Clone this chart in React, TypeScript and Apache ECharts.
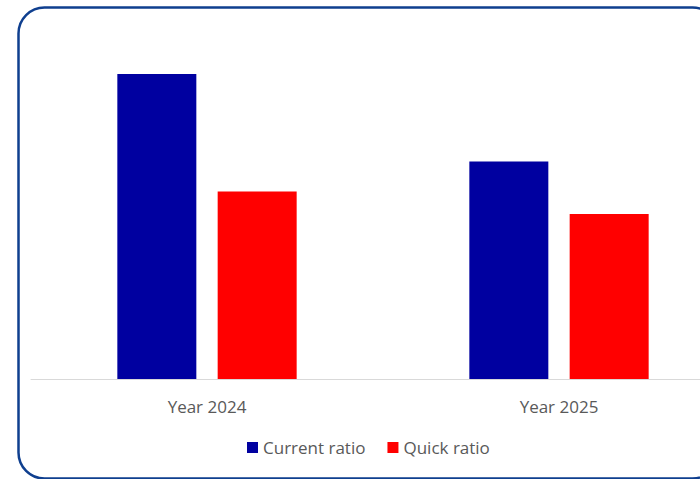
import React, { useEffect, useRef } from "react";
import * as echarts from "echarts";

const categories = ["Year 2024", "Year 2025"];
const currentRatio = [2.44, 1.74];
const quickRatio = [1.5, 1.32];
const seriesNames = ["Current ratio", "Quick ratio"];

export default function App() {
  const ref = useRef<HTMLDivElement>(null);
  useEffect(() => {
    if (!ref.current) return;
    const chart = echarts.init(ref.current, null, { renderer: "svg" });
    chart.setOption({
      animation: false,
      backgroundColor: "#ffffff",
      textStyle: { fontFamily: "Open Sans" },
      graphic: [
        {
          type: "rect",
          shape: { x: 18.5, y: 7.5, width: 700, height: 471, r: 26 },
          style: { fill: "none", stroke: "#0f3f8f", lineWidth: 2.5 },
          silent: true,
          z: 100,
        },
      ],
      grid: {
        left: 31,
        top: 29,
        width: 704,
        height: 350,
        containLabel: false,
        outerBoundsMode: "none",
      },
      legend: {
        top: 434,
        left: 242,
        itemWidth: 11,
        itemHeight: 11,
        itemGap: 22,
        icon: "rect",
        textStyle: { color: "#595959", fontSize: 17, fontFamily: "Open Sans" },
        data: seriesNames,
      },
      xAxis: {
        type: "category",
        data: categories,
        axisLine: { lineStyle: { color: "#d9d9d9", width: 1 } },
        axisTick: { show: false },
        axisLabel: { color: "#595959", fontSize: 17, margin: 19, fontFamily: "Open Sans" },
      },
      yAxis: {
        type: "value",
        min: 0,
        max: 2.8,
        show: false,
        splitLine: { show: false },
      },
      series: [
        {
          name: seriesNames[0],
          type: "bar",
          data: currentRatio,
          barWidth: 79,
          barGap: "27%",
          itemStyle: { color: "#0000a0" },
        },
        {
          name: seriesNames[1],
          type: "bar",
          data: quickRatio,
          barWidth: 79,
          barGap: "27%",
          itemStyle: { color: "#ff0000" },
        },
      ],
    });
    return () => chart.dispose();
  }, []);
  return (
    <div
      ref={ref}
      style={{ position: "fixed", left: 0, top: 0, width: 700, height: 479 }}
    />
  );
}
